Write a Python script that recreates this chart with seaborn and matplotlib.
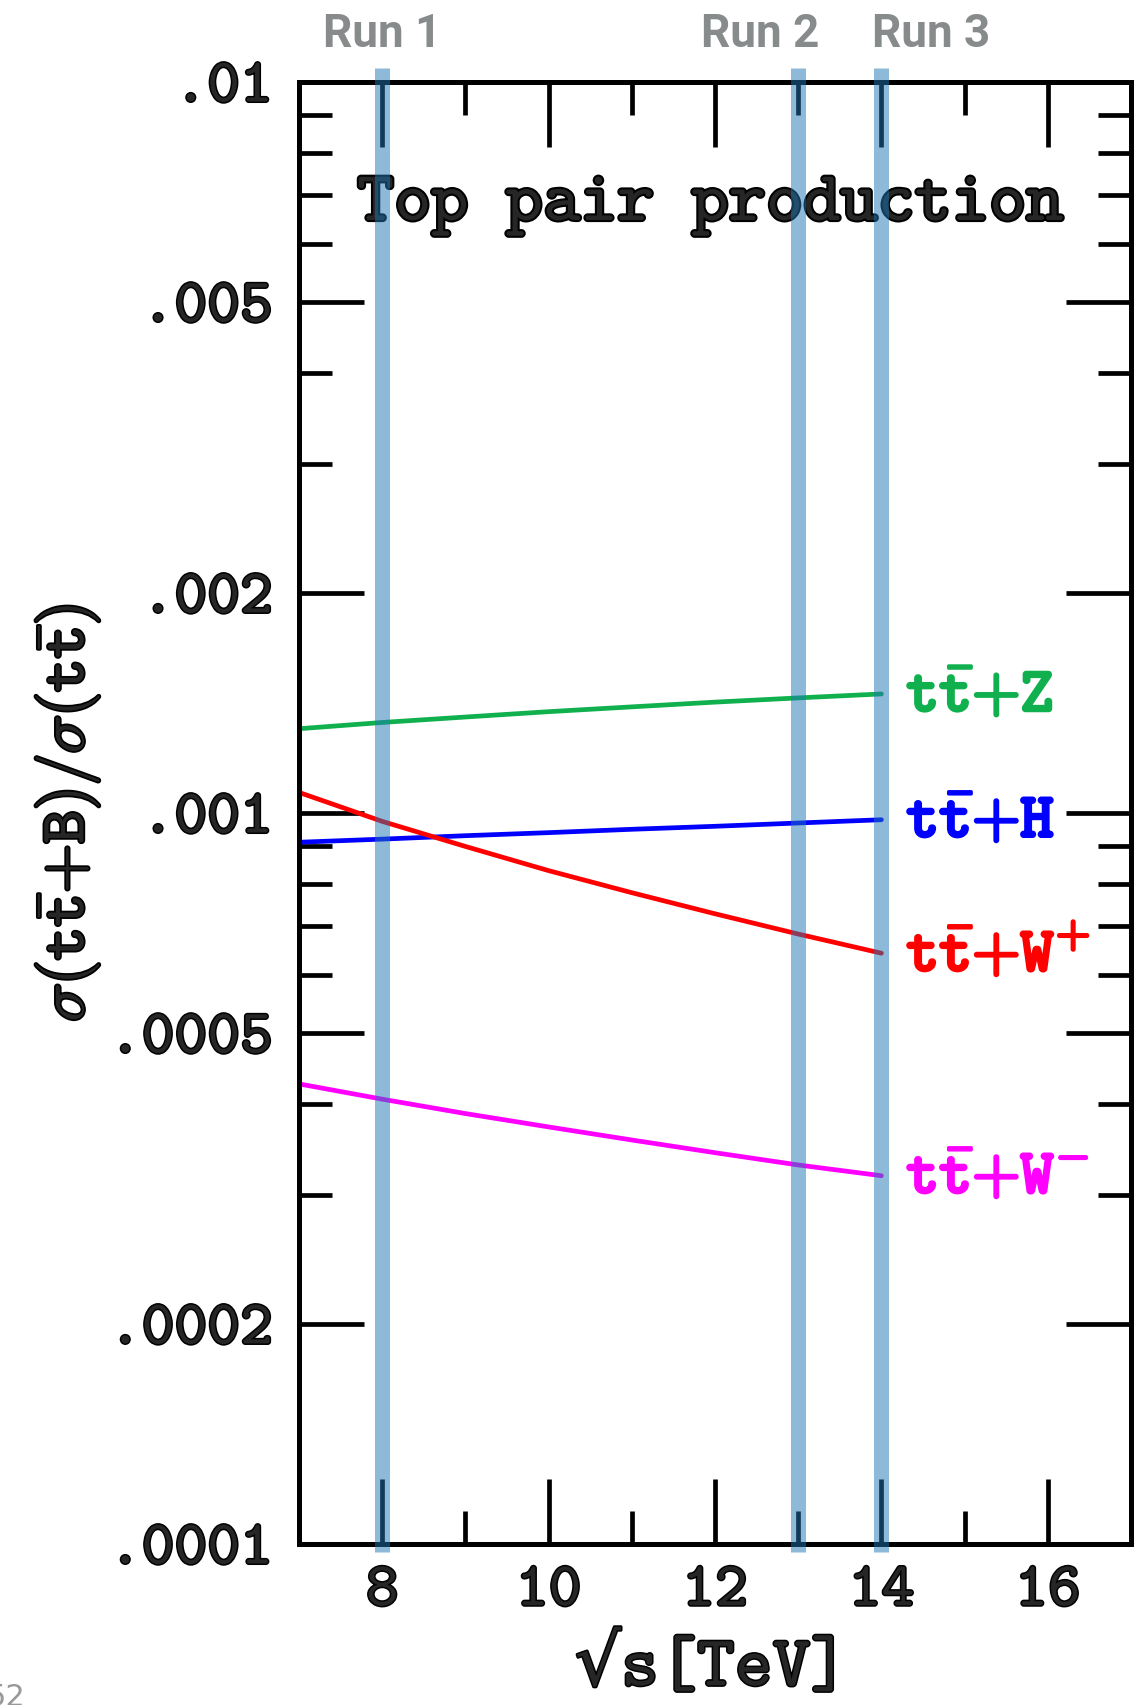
import numpy as np
import pandas as pd
import seaborn as sb
import matplotlib.pyplot as plt
import matplotlib.patheffects as pe
from matplotlib.ticker import FixedLocator, FixedFormatter, LogLocator, NullFormatter, MultipleLocator
import matplotlib.transforms as mtrans

# values (ratio sigma(ttB)/sigma(tt) vs sqrt(s))
energies = [7, 8, 9, 10, 11, 12, 13, 14]
ttZ  = [0.001304, 0.001330, 0.001353, 0.001376, 0.001397, 0.001418, 0.001437, 0.001455]
ttH  = [0.000912, 0.000921, 0.000931, 0.000940, 0.000950, 0.000959, 0.000969, 0.000979]
ttWp = [0.001067, 0.000974, 0.000900, 0.000834, 0.000778, 0.000728, 0.000683, 0.000643]
ttWm = [0.000426, 0.000406, 0.000388, 0.000372, 0.000357, 0.000343, 0.000330, 0.000319]

series_names = ['ttZ', 'ttH', 'ttWp', 'ttWm']
series_labels = [r'$\mathtt{t\bar{t}{+}Z}$', r'$\mathtt{t\bar{t}{+}H}$',
                 r'$\mathtt{t\bar{t}{+}W^{+}}$', r'$\mathtt{t\bar{t}{+}W^{-}}$']
series_colors = ['#10b04f', '#0000ff', '#ff0000', '#ff00ff']

run_energies = [8, 13, 14]
run_labels = ['Run 1', 'Run 2', 'Run 3']
run_label_x = [8.0, 12.54, 14.6]

ytick_vals = [0.01, 0.005, 0.002, 0.001, 0.0005, 0.0002, 0.0001]
ytick_labels = ['.01', '.005', '.002', '.001', '.0005', '.0002', '.0001']

df = pd.DataFrame({
    'energy': energies * 4,
    'ratio': ttZ + ttH + ttWp + ttWm,
    'process': sum([[n] * len(energies) for n in series_names], []),
})

sb.set_style('ticks')
plt.rcParams['mathtext.fontset'] = 'cm'
TT = ['cmtt10', 'DejaVu Sans']

fig = plt.figure(figsize=(11.42, 17.05), dpi=100, facecolor='w')
ax = fig.add_axes([299/1142, 1 - 1544/1705, 832/1142, 1462/1705])

sb.lineplot(data=df, x='energy', y='ratio', hue='process', hue_order=series_names,
            palette=dict(zip(series_names, series_colors)), legend=False,
            linewidth=3.4, solid_capstyle='round', ax=ax)

ax.set_yscale('log')
ax.set_xlim(7, 17)
ax.set_ylim(0.0001, 0.01)

ax.yaxis.set_major_locator(FixedLocator(ytick_vals))
ax.yaxis.set_major_formatter(FixedFormatter(ytick_labels))
ax.yaxis.set_minor_locator(LogLocator(base=10, subs=range(2, 10)))
ax.yaxis.set_minor_formatter(NullFormatter())
ax.xaxis.set_major_locator(MultipleLocator(2))
ax.xaxis.set_minor_locator(MultipleLocator(1))

for s in ax.spines.values():
    s.set_linewidth(3.6)
    s.set_color('black')
ax.tick_params(which='both', direction='in', top=True, right=True, width=3.4, color='black')
ax.tick_params(which='major', length=47)
ax.tick_params(which='minor', length=24)
ax.tick_params(axis='y', which='major', pad=19)
ax.tick_params(axis='x', which='major', pad=16)

bold = [pe.withStroke(linewidth=2.2, foreground='black')]
for lab in ax.get_xticklabels() + ax.get_yticklabels():
    lab.set_fontfamily(TT)
    lab.set_fontsize(45)
    lab.set_path_effects(bold)

ax.set_xlabel('√s[TeV]', fontfamily=TT, fontsize=52, va='top', path_effects=bold)
ax.xaxis.set_label_coords(0.496, -0.0636)
ax.set_ylabel(r'$\sigma(\mathtt{t\bar{t}{+}B})/\sigma(\mathtt{t\bar{t}})$', fontsize=46,
              va='center', path_effects=[pe.withStroke(linewidth=2.6, foreground='black')])
ax.yaxis.set_label_coords(-0.279, 0.5)

ax.text(0.494, 0.9056, 'Top pair production', transform=ax.transAxes, ha='center',
        va='baseline', fontfamily=TT, fontsize=51,
        path_effects=[pe.withStroke(linewidth=3.0, foreground='black')])

# end-of-line labels
for vals, lab, col in zip([ttZ, ttH, ttWp, ttWm], series_labels, series_colors):
    ax.text(14.3, vals[-1], lab, color=col, fontsize=45, ha='left', va='center',
            path_effects=[pe.withStroke(linewidth=2.4, foreground=col)])

# LHC run bands, drawn on top of everything
for e in run_energies:
    ax.axvline(e, ymin=-0.0055, ymax=1.0096, color='#1f77b4', alpha=0.5,
               linewidth=10.8, solid_capstyle='butt', clip_on=False, zorder=10)

trans = mtrans.blended_transform_factory(ax.transData, ax.transAxes)
for xpos, lab in zip(run_label_x, run_labels):
    ax.text(xpos, 1.024, lab, transform=trans, ha='center', va='baseline',
            fontfamily='Roboto', fontweight='bold', fontsize=33, color='#878b8c',
            clip_on=False)

fig.text(-0.012, 1 - 1683/1705, '52', color='#999999', fontsize=22, ha='left', va='top')

fig.savefig('out.png', dpi=100)
